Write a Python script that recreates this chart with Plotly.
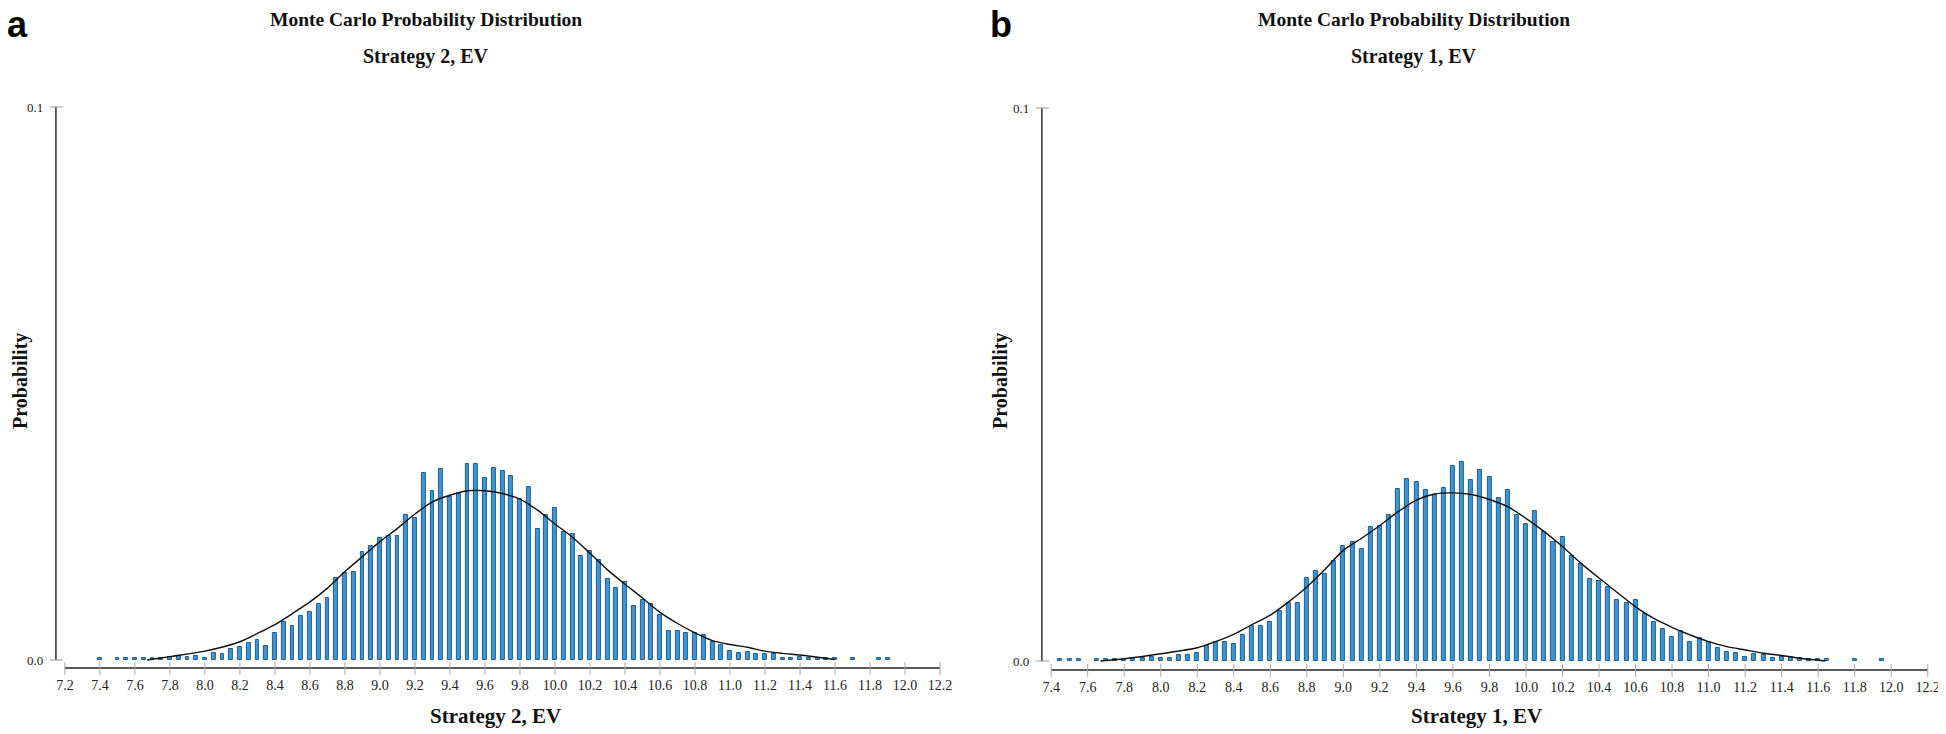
import plotly.graph_objects as go

# ---------------- data ----------------
bins_a = [7.40, 7.45, 7.50, 7.55, 7.60, 7.65, 7.70, 7.75, 7.80, 7.85, 7.90, 7.95,
          8.00, 8.05, 8.10, 8.15, 8.20, 8.25, 8.30, 8.35, 8.40, 8.45, 8.50, 8.55,
          8.60, 8.65, 8.70, 8.75, 8.80, 8.85, 8.90, 8.95, 9.00, 9.05, 9.10, 9.15,
          9.20, 9.25, 9.30, 9.35, 9.40, 9.45, 9.50, 9.55, 9.60, 9.65, 9.70, 9.75,
          9.80, 9.85, 9.90, 9.95, 10.00, 10.05, 10.10, 10.15, 10.20, 10.25, 10.30,
          10.35, 10.40, 10.45, 10.50, 10.55, 10.60, 10.65, 10.70, 10.75, 10.80,
          10.85, 10.90, 10.95, 11.00, 11.05, 11.10, 11.15, 11.20, 11.25, 11.30,
          11.35, 11.40, 11.45, 11.50, 11.55, 11.60, 11.65, 11.70, 11.75, 11.80,
          11.85, 11.90]
prob_a = [0.0003, 0, 0.0003, 0.0003, 0.0003, 0.0003, 0.0003, 0.0004, 0.0006, 0.0007, 0.0005, 0.0008,
          0.0004, 0.0013, 0.0010, 0.0020, 0.0024, 0.0030, 0.0037, 0.0025, 0.0048, 0.0069, 0.0061, 0.0079,
          0.0086, 0.0101, 0.0113, 0.0148, 0.0157, 0.0159, 0.0195, 0.0206, 0.0221, 0.0224, 0.0225, 0.0262,
          0.0256, 0.0339, 0.0306, 0.0346, 0.0295, 0.0300, 0.0354, 0.0354, 0.0330, 0.0348, 0.0342, 0.0333,
          0.0292, 0.0313, 0.0237, 0.0262, 0.0275, 0.0231, 0.0228, 0.0188, 0.0197, 0.0181, 0.0146,
          0.0131, 0.0141, 0.0097, 0.0108, 0.0101, 0.0081, 0.0052, 0.0052, 0.0048, 0.0048,
          0.0045, 0.0032, 0.0028, 0.0017, 0.0013, 0.0014, 0.0010, 0.0010, 0.0010, 0.0003,
          0.0004, 0.0006, 0.0004, 0.0003, 0.0003, 0.0003, 0, 0.0003, 0, 0,
          0.0003, 0.0003]

fit_x_a = [7.67, 7.8, 8.0, 8.2, 8.3, 8.4, 8.5, 8.6, 8.7, 8.8, 8.9, 9.0, 9.1, 9.2, 9.3, 9.4, 9.5,
           9.6, 9.7, 9.8, 9.9, 10.0, 10.1, 10.2, 10.3, 10.4, 10.5, 10.6, 10.7, 10.8, 10.9,
           11.0, 11.1, 11.2, 11.3, 11.4, 11.5, 11.6]
fit_y_a = [0.0, 0.0006, 0.0016, 0.0033, 0.0048, 0.0064, 0.0084, 0.0105, 0.0130, 0.0160, 0.0187,
           0.0214, 0.0238, 0.0264, 0.0286, 0.0298, 0.0306, 0.0306, 0.0301, 0.0291, 0.0271, 0.0246,
           0.0222, 0.0193, 0.0163, 0.0137, 0.0112, 0.0086, 0.0066, 0.0049, 0.0035, 0.0028, 0.0023,
           0.0016, 0.0012, 0.0009, 0.0005, 0.0001]

bins_b = [7.45, 7.50, 7.55, 7.60, 7.65, 7.70, 7.75, 7.80, 7.85, 7.90, 7.95,
          8.00, 8.05, 8.10, 8.15, 8.20, 8.25, 8.30, 8.35, 8.40, 8.45, 8.50, 8.55,
          8.60, 8.65, 8.70, 8.75, 8.80, 8.85, 8.90, 8.95, 9.00, 9.05, 9.10, 9.15,
          9.20, 9.25, 9.30, 9.35, 9.40, 9.45, 9.50, 9.55, 9.60, 9.65, 9.70, 9.75,
          9.80, 9.85, 9.90, 9.95, 10.00, 10.05, 10.10, 10.15, 10.20, 10.25, 10.30,
          10.35, 10.40, 10.45, 10.50, 10.55, 10.60, 10.65, 10.70, 10.75, 10.80,
          10.85, 10.90, 10.95, 11.00, 11.05, 11.10, 11.15, 11.20, 11.25, 11.30,
          11.35, 11.40, 11.45, 11.50, 11.55, 11.60, 11.65, 11.70, 11.75, 11.80,
          11.85, 11.90, 11.95]
prob_b = [0.0003, 0.0003, 0.0003, 0, 0.0003, 0.0003, 0.0003, 0.0004, 0.0005, 0.0005, 0.0008,
          0.0005, 0.0005, 0.0010, 0.0010, 0.0014, 0.0028, 0.0034, 0.0034, 0.0030, 0.0047, 0.0063, 0.0063,
          0.0070, 0.0090, 0.0105, 0.0105, 0.0150, 0.0162, 0.0157, 0.0181, 0.0208, 0.0215, 0.0203, 0.0242,
          0.0244, 0.0264, 0.0311, 0.0329, 0.0324, 0.0309, 0.0301, 0.0313, 0.0353, 0.0360, 0.0327, 0.0346,
          0.0333, 0.0295, 0.0309, 0.0264, 0.0247, 0.0271, 0.0233, 0.0215, 0.0224, 0.0189, 0.0176,
          0.0148, 0.0145, 0.0133, 0.0110, 0.0105, 0.0110, 0.0085, 0.0070, 0.0058, 0.0043,
          0.0055, 0.0034, 0.0042, 0.0035, 0.0024, 0.0017, 0.0014, 0.0008, 0.0012, 0.0010,
          0.0005, 0.0008, 0.0007, 0.0005, 0.0004, 0.0003, 0.0003, 0, 0, 0.0003,
          0, 0, 0.0003]

fit_x_b = [7.67, 7.8, 8.0, 8.2, 8.3, 8.4, 8.5, 8.6, 8.7, 8.8, 8.9, 9.0, 9.1, 9.2, 9.3, 9.4, 9.5,
           9.6, 9.7, 9.8, 9.9, 10.0, 10.1, 10.2, 10.3, 10.4, 10.5, 10.6, 10.7, 10.8, 10.9,
           11.0, 11.1, 11.2, 11.3, 11.4, 11.5, 11.64]
fit_y_b = [0.0, 0.0004, 0.0013, 0.0024, 0.0035, 0.0048, 0.0066, 0.0083, 0.0107, 0.0134, 0.0166,
           0.0200, 0.0222, 0.0245, 0.0270, 0.0291, 0.0302, 0.0304, 0.0301, 0.0292, 0.0279, 0.0258,
           0.0234, 0.0207, 0.0177, 0.0150, 0.0124, 0.0098, 0.0077, 0.0061, 0.0047, 0.0035, 0.0026,
           0.0020, 0.0014, 0.0010, 0.0005, 0.0]

xticks_a = [7.2, 7.4, 7.6, 7.8, 8.0, 8.2, 8.4, 8.6, 8.8, 9.0, 9.2, 9.4, 9.6, 9.8, 10.0, 10.2,
            10.4, 10.6, 10.8, 11.0, 11.2, 11.4, 11.6, 11.8, 12.0, 12.2]
xticks_b = [7.4, 7.6, 7.8, 8.0, 8.2, 8.4, 8.6, 8.8, 9.0, 9.2, 9.4, 9.6, 9.8, 10.0, 10.2,
            10.4, 10.6, 10.8, 11.0, 11.2, 11.4, 11.6, 11.8, 12.0, 12.2]
yticks = [0.0, 0.1]
ytick_text = ["0.0", "0.1"]

title_line1 = "Monte Carlo Probability Distribution"
title_a = "Strategy 2, EV"
title_b = "Strategy 1, EV"
y_title = "Probability"

# ---------------- styling ----------------
# The page body has an 8px default margin, so the figure is drawn 8px
# smaller and every page-pixel position below is shifted by that offset.
OFF = 8
W, H = 1946 - OFF, 734 - OFF
SERIF = "Liberation Serif, Times New Roman, serif"
BAR_FILL = "#3f95d4"
BAR_EDGE = "#1f5d8c"


def px_x(p):
    return (p - OFF) / W


def px_y(p):
    return 1 - (p - OFF) / H


panels = [
    dict(bins=bins_a, prob=prob_a, fx=fit_x_a, fy=fit_y_a, ticks=xticks_a,
         xd=(56, 950), ytop=100, ybot=668, zero=660, one=107,
         x0px=65, x0val=7.2, pxu=175.4, xa="x", ya="y"),
    dict(bins=bins_b, prob=prob_b, fx=fit_x_b, fy=fit_y_b, ticks=xticks_b,
         xd=(1044, 1940), ytop=100, ybot=670, zero=661, one=108,
         x0px=1053.3, x0val=7.4, pxu=183.0, xa="x2", ya="y2"),
]

fig = go.Figure()
shapes = []
layout_axes = {}

for i, p in enumerate(panels):
    xa, ya = p["xa"], p["ya"]
    fig.add_trace(go.Bar(
        x=p["bins"], y=[v if v > 0 else None for v in p["prob"]],
        width=0.022, xaxis=xa, yaxis=ya,
        marker=dict(color=BAR_FILL, line=dict(color=BAR_EDGE, width=1)),
        showlegend=False, hoverinfo="x+y"))
    fig.add_trace(go.Scatter(
        x=p["fx"], y=p["fy"], mode="lines", xaxis=xa, yaxis=ya,
        line=dict(color="#111111", width=1.4, shape="spline", smoothing=0.8),
        showlegend=False, hoverinfo="skip"))

    xl, xr = p["xd"]
    xmin = p["x0val"] - (p["x0px"] - xl) / p["pxu"]
    xmax = p["x0val"] + (xr - p["x0px"]) / p["pxu"]
    ppu = (p["zero"] - p["one"]) / 0.1
    ymin = -(p["ybot"] - p["zero"]) / ppu
    ymax = (p["zero"] - p["ytop"]) / ppu

    key = "" if i == 0 else "2"
    layout_axes["xaxis" + key] = dict(
        domain=[px_x(xl), px_x(xr)], range=[xmin, xmax], anchor=ya,
        showgrid=False, zeroline=False, showline=False,
        tickvals=p["ticks"], ticktext=[f"{t:.1f}" for t in p["ticks"]],
        ticks="outside", ticklen=4, tickcolor="rgba(0,0,0,0)",
        tickfont=dict(family=SERIF, size=14, color="#222222"))
    layout_axes["yaxis" + key] = dict(
        domain=[px_y(p["ybot"]), px_y(p["ytop"])], range=[ymin, ymax], anchor=xa,
        showgrid=False, zeroline=False, showline=False,
        tickvals=yticks, ticktext=ytick_text,
        ticks="outside", ticklen=9, tickcolor="rgba(0,0,0,0)",
        tickfont=dict(family=SERIF, size=13, color="#222222"))

    dom_w = xr - xl
    dom_h = p["ybot"] - p["ytop"]
    # y axis line
    shapes.append(dict(type="line", xref=xa + " domain", yref=ya, x0=0, x1=0,
                       y0=0, y1=0.1, line=dict(color="#3a3a3a", width=1.6)))
    for v in yticks:
        shapes.append(dict(type="line", xref=xa + " domain", yref=ya,
                           x0=-6 / dom_w, x1=7 / dom_w, y0=v, y1=v,
                           line=dict(color="#9a9a9a", width=1)))
    # x axis line
    shapes.append(dict(type="line", xref=xa, yref=ya + " domain",
                       x0=p["ticks"][0], x1=p["ticks"][-1], y0=0, y1=0,
                       line=dict(color="#5a5a5a", width=2)))
    for t in p["ticks"]:
        shapes.append(dict(type="line", xref=xa, yref=ya + " domain",
                           x0=t, x1=t, y0=-7 / dom_h, y1=6 / dom_h,
                           line=dict(color="#aaaaaa", width=1)))

annotations = []
for cx, sub, lab, lx, ycx, xtx in [(427, title_a, "a", 5, 20, 497),
                                    (1417, title_b, "b", 990, 1002, 1480)]:
    annotations.append(dict(text=f"<b>{title_line1}</b>", x=px_x(cx), y=px_y(20),
                            xref="paper", yref="paper", showarrow=False,
                            xanchor="center", yanchor="middle",
                            font=dict(family=SERIF, size=19.5, color="#111111")))
    annotations.append(dict(text=f"<b>{sub}</b>", x=px_x(cx), y=px_y(56),
                            xref="paper", yref="paper", showarrow=False,
                            xanchor="center", yanchor="middle",
                            font=dict(family=SERIF, size=20, color="#111111")))
    annotations.append(dict(text=f"<b>{lab}</b>", x=px_x(lx), y=px_y(24),
                            xref="paper", yref="paper", showarrow=False,
                            xanchor="left", yanchor="middle",
                            font=dict(family="Liberation Sans, Arial, sans-serif",
                                      size=36, color="#000000")))
    annotations.append(dict(text=f"<b>{y_title}</b>", x=px_x(ycx), y=px_y(381),
                            xref="paper", yref="paper", showarrow=False, textangle=-90,
                            xanchor="center", yanchor="middle",
                            font=dict(family=SERIF, size=20, color="#111111")))
    annotations.append(dict(text=f"<b>{sub}</b>", x=px_x(xtx), y=px_y(716),
                            xref="paper", yref="paper", showarrow=False,
                            xanchor="center", yanchor="middle",
                            font=dict(family=SERIF, size=21, color="#111111")))

fig.update_layout(
    width=W, height=H, margin=dict(l=0, r=0, t=0, b=0),
    paper_bgcolor="white", plot_bgcolor="white",
    bargap=0, shapes=shapes, annotations=annotations,
    **layout_axes)

fig.write_html("out.html")
